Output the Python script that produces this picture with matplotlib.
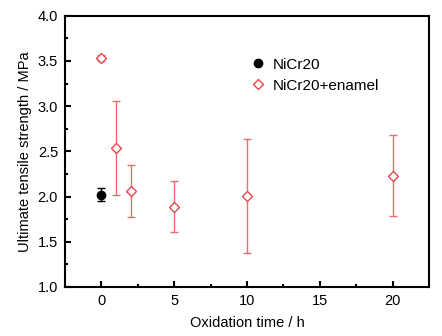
import matplotlib
matplotlib.use("Agg")
import matplotlib.pyplot as plt
from matplotlib.ticker import MultipleLocator, FormatStrFormatter
from matplotlib.lines import Line2D

plt.rcParams['font.family'] = ['Liberation Sans', 'DejaVu Sans']

# Data
nicr_x = [0]
nicr_y = [2.02]
nicr_err = [0.07]

enamel_x = [0, 1, 2, 5, 10, 20]
enamel_y = [3.53, 2.54, 2.06, 1.89, 2.01, 2.23]
enamel_err = [0.03, 0.52, 0.29, 0.28, 0.63, 0.45]

labels = ['NiCr20', 'NiCr20+enamel']

red = '#e8474c'
red_err = '#ee6a6e'

fig = plt.figure(figsize=(4.42, 3.36), dpi=100)
ax = fig.add_axes([65/442, 1 - 287/336, (429-65)/442, (287-15.7)/336])

ax.errorbar(nicr_x, nicr_y, yerr=nicr_err, fmt='o', color='black', ms=6,
            ecolor='black', elinewidth=1.0, capsize=3, capthick=1.0)
ax.errorbar(enamel_x, enamel_y, yerr=enamel_err, fmt='D', mfc='white', mec=red,
            mew=1.0, ms=5.5, ecolor=red_err, elinewidth=1.0, capsize=3, capthick=1.0)

ax.set_xlim(-2.5, 22.5)
ax.set_ylim(1.0, 4.0)
ax.xaxis.set_major_locator(MultipleLocator(5))
ax.xaxis.set_minor_locator(MultipleLocator(2.5))
ax.yaxis.set_major_locator(MultipleLocator(0.5))
ax.yaxis.set_minor_locator(MultipleLocator(0.25))
ax.yaxis.set_major_formatter(FormatStrFormatter('%.1f'))

for s in ax.spines.values():
    s.set_linewidth(1.5)
ax.tick_params(which='major', direction='in', length=4, width=1.5, labelsize=10.5, pad=5)
ax.tick_params(which='minor', direction='in', length=2.5, width=1.5)
ax.tick_params(top=False, right=False, which='both')

ax.set_xlabel('Oxidation time / h', fontsize=10.5, labelpad=6)
ax.set_ylabel('Ultimate tensile strength / MPa', fontsize=10.5, labelpad=4)

handles = [
    Line2D([], [], ls='none', marker='o', color='black', ms=6),
    Line2D([], [], ls='none', marker='D', mfc='white', mec=red, mew=1.0, ms=5.5),
]
ax.legend(handles, labels, loc='upper left', bbox_to_anchor=(0.466, 0.896), frameon=False,
          fontsize=11, handletextpad=0.4, labelspacing=0.45, handlelength=1.2)

fig.savefig('out.png', dpi=100)
